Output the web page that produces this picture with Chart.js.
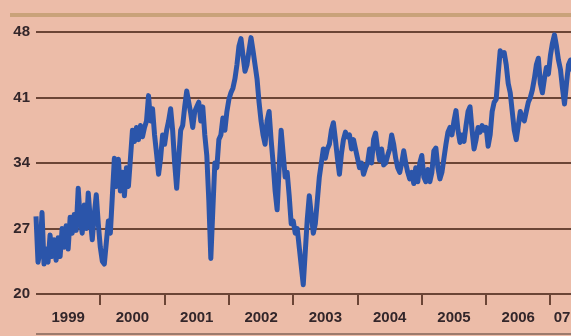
<!DOCTYPE html>
<html>
<head>
<meta charset="utf-8">
<script src="https://cdn.jsdelivr.net/npm/chart.js@4/dist/chart.umd.min.js"></script>
<style>
    html, body { margin: 0; padding: 0; background: #ebbca8; }
    #grafico { display: block; }
</style>
</head>
<body>
<canvas id="grafico" width="571" height="336"></canvas>
<script>
// serie, um ponto a cada 1/32 de ano a partir do inicio de 1999
const inicioSerie = 1999;
const passoSerie = 1 / 32;
const cotacoes = [
    28.3, 23.4, 24.5, 28.7, 23.2, 24.8, 23.4, 26.3, 24.0, 25.8,
    23.6, 26.0, 24.0, 27.0, 25.0, 27.3, 24.8, 28.2, 26.5, 28.5,
    26.8, 31.3, 28.0, 26.5, 29.5, 27.0, 30.8, 28.0, 25.8, 28.5,
    30.6, 27.5, 25.0, 23.5, 23.2, 25.5, 27.8, 26.5, 30.5, 34.5,
    31.5, 34.4, 31.0, 33.0, 30.5, 33.5, 31.5, 34.5, 37.5, 36.3,
    37.8, 36.5, 38.0, 36.8, 37.8, 38.5, 41.2, 38.5, 39.8, 37.0,
    35.0, 32.8, 34.5, 37.0, 36.0, 37.5, 38.5, 39.8, 37.5, 34.0,
    31.3, 34.5, 37.5, 38.0, 40.0, 41.7, 40.5, 39.3, 37.8, 39.5,
    40.0, 40.5, 38.5, 40.0, 37.0, 34.8, 30.0, 23.8, 29.0, 34.0,
    33.5, 36.5, 37.0, 38.8, 37.5, 39.5, 40.8, 41.5, 42.0, 43.0,
    44.5, 46.5, 47.3, 45.5, 43.8, 44.5, 46.0, 47.4, 46.0, 44.5,
    43.0, 40.5, 38.5, 37.0, 36.0, 38.5, 39.5, 36.5, 34.0, 31.0,
    29.0, 33.5, 37.5, 35.0, 32.5, 33.0, 30.5, 27.5, 27.8, 26.5,
    27.0, 25.0, 23.0, 21.0, 24.5, 28.0, 30.5, 28.5, 26.5, 27.5,
    30.0, 32.5, 34.0, 35.5, 34.5, 35.5, 36.0, 37.5, 38.3, 36.5,
    34.5, 32.8, 35.0, 36.5, 37.3, 36.8, 37.0, 35.5, 36.5, 35.5,
    34.5, 33.5, 34.0, 32.8, 33.5, 34.0, 35.5, 34.0, 36.5, 37.2,
    35.5, 34.3, 35.5, 33.8, 34.0, 34.8, 35.5, 37.0, 36.0, 34.5,
    33.5, 33.0, 34.0, 35.3, 34.0, 33.0, 32.3, 33.0, 31.8, 33.5,
    32.0, 34.0, 34.8, 32.5, 32.0, 33.3, 32.0, 33.0, 35.3, 35.6,
    33.5, 32.3, 33.0, 34.5, 36.0, 37.3, 37.8, 37.0, 38.5, 39.6,
    37.5, 36.2, 37.0, 36.3, 38.0, 39.5, 40.0, 37.5, 35.5, 36.5,
    37.8, 37.3, 38.0, 37.5, 37.8, 35.8, 37.0, 39.5, 40.5, 40.8,
    43.5, 46.0, 45.5, 45.8, 44.5, 42.5, 41.5, 39.5, 37.5, 36.5,
    38.0, 39.5, 38.8, 38.5, 39.5, 40.5, 41.0, 41.8, 43.0, 44.5,
    45.2, 42.5, 41.5, 43.0, 44.2, 43.5, 45.5, 46.8, 47.7, 46.5,
    45.0, 44.0, 42.0, 40.3, 42.5, 44.5, 45.0, 43.8
];

const marcasAnos = [2000, 2001, 2002, 2003, 2004, 2005, 2006, 2007];
const posicoesRotulos = [1999.5, 2000.5, 2001.5, 2002.5, 2003.5, 2004.5, 2005.5, 2006.5, 2007.18];
const rotulosAnos = ["1999", "2000", "2001", "2002", "2003", "2004", "2005", "2006", "07"];
const ticksY = [20, 27, 34, 41, 48];

const corFundo = "#ecbca8";
const corLinha = "#2b55aa";
const corGrade = "#6b4536";
const corTexto = "#33262a";
const fonte = { family: "'Liberation Sans', Arial, sans-serif", size: 15, weight: "bold" };

const decoracao = {
    id: "decoracao",
    beforeDraw(chart) {
        const ctx = chart.ctx;
        ctx.save();
        ctx.fillStyle = corFundo;
        ctx.fillRect(0, 0, chart.width, chart.height);
        ctx.strokeStyle = "#c9a27a";
        ctx.lineWidth = 4;
        ctx.beginPath();
        ctx.moveTo(10, 15);
        ctx.lineTo(chart.width, 15);
        ctx.stroke();
        ctx.strokeStyle = "#9c7a6c";
        ctx.lineWidth = 2;
        ctx.beginPath();
        ctx.moveTo(36, 334);
        ctx.lineTo(chart.width, 334);
        ctx.stroke();
        ctx.restore();
    }
};

criarGrafico(document.querySelector("#grafico"));

function criarGrafico(ctx) {
    const minX = 1999;
    const maxX = 2007.32;
    return new Chart(ctx, {
        type: "line",
        plugins: [decoracao],
        data: {
            datasets: [{
                data: cotacoes.map((v, i) => ({ x: inicioSerie + i * passoSerie, y: v })),
                borderColor: corLinha,
                borderWidth: 5,
                borderJoinStyle: "round",
                pointRadius: 0,
                tension: 0,
                clip: false
            }]
        },
        options: {
            responsive: false,
            animation: false,
            layout: { padding: { top: 32, right: 0, bottom: 0, left: 0 } },
            plugins: { legend: { display: false }, tooltip: { enabled: false } },
            scales: {
                x: {
                    type: "linear",
                    position: "bottom",
                    weight: 0,
                    min: minX,
                    max: maxX,
                    afterBuildTicks: eixo => { eixo.ticks = marcasAnos.map(v => ({ value: v })); },
                    afterFit: eixo => { eixo.height = 11; },
                    ticks: { display: false },
                    grid: { display: true, drawOnChartArea: false, drawTicks: true, tickLength: 11, color: corGrade, lineWidth: 2 },
                    border: { display: false }
                },
                anos: {
                    type: "linear",
                    position: "bottom",
                    weight: 1,
                    min: minX,
                    max: maxX,
                    afterBuildTicks: eixo => { eixo.ticks = posicoesRotulos.map(v => ({ value: v })); },
                    afterFit: eixo => { eixo.height = 31; },
                    ticks: {
                        autoSkip: false,
                        maxRotation: 0,
                        padding: 0,
                        color: corTexto,
                        font: fonte,
                        callback: (v, i) => rotulosAnos[i]
                    },
                    grid: { display: false, drawTicks: true, tickLength: 4 },
                    border: { display: false }
                },
                y: {
                    min: 20,
                    max: 48,
                    afterBuildTicks: eixo => { eixo.ticks = ticksY.map(v => ({ value: v })); },
                    afterFit: eixo => { eixo.width = 36; },
                    ticks: { padding: 6, color: corTexto, font: fonte },
                    grid: { color: corGrade, lineWidth: 2, drawTicks: false },
                    border: { display: false }
                }
            }
        }
    });
}
</script>
</body>
</html>
